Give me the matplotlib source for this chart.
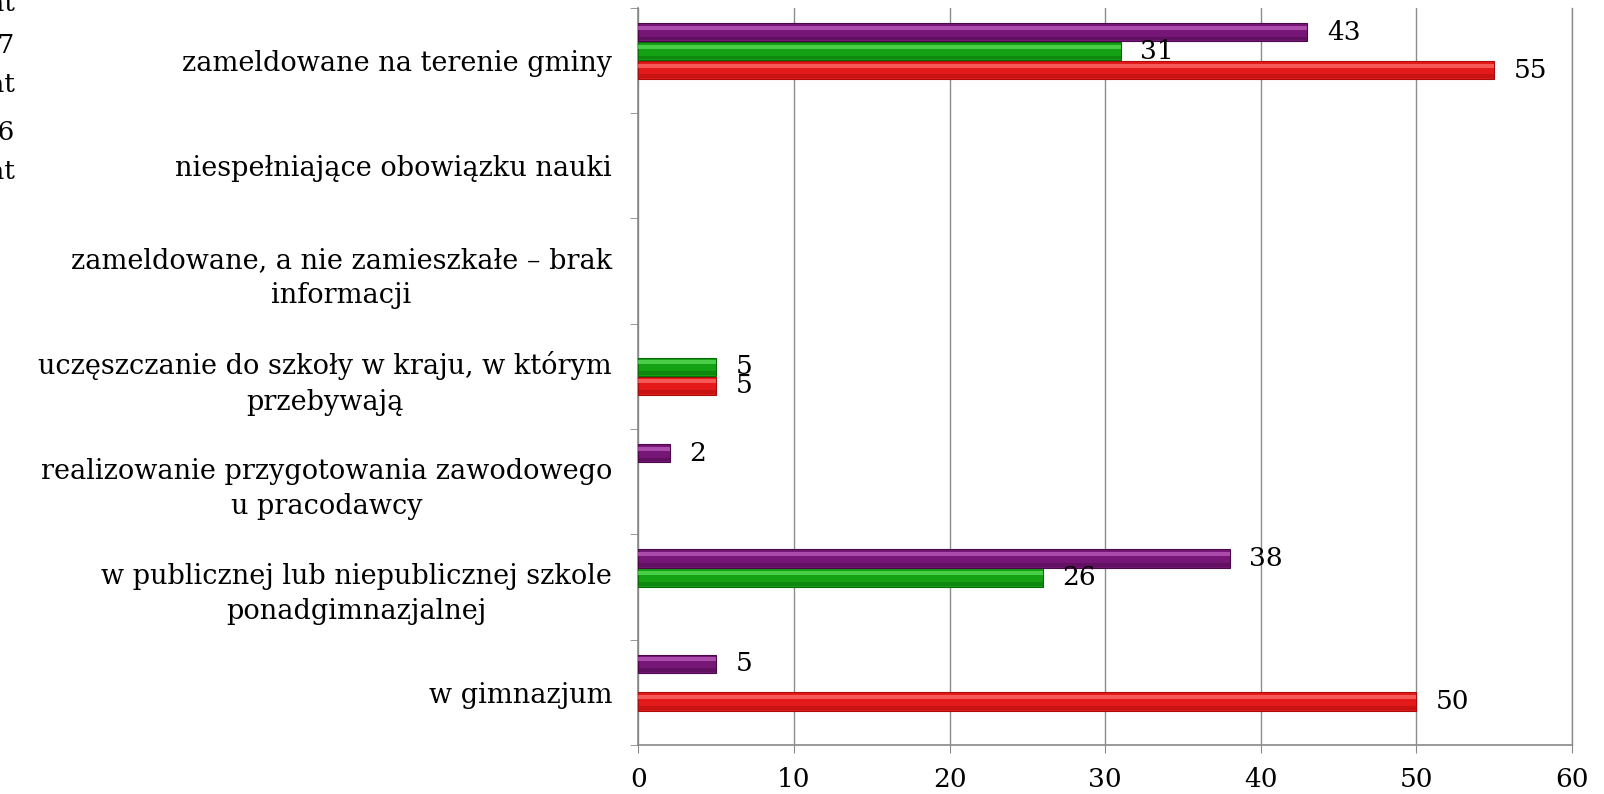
import numpy as np
import matplotlib
matplotlib.use('Agg')
import matplotlib.pyplot as plt

FIG_W, FIG_H, DPI = 16.04, 7.94, 100
FONT = 'DejaVu Serif'
plt.rcParams['font.family'] = FONT

categories = [
    'w gimnazjum',
    'w publicznej lub niepublicznej szkole\nponadgimnazjalnej',
    'realizowanie przygotowania zawodowego\nu pracodawcy',
    'uczęszczanie do szkoły w kraju, w którym\nprzebywają',
    'zameldowane, a nie zamieszkałe – brak\ninformacji',
    'niespełniające obowiązku nauki',
    'zameldowane na terenie gminy',
]
red_vals = [50, 0, 0, 5, 0, 0, 55]
green_vals = [0, 26, 0, 5, 0, 0, 31]
purple_vals = [5, 38, 2, 0, 0, 0, 43]
x_ticks = [0, 10, 20, 30, 40, 50, 60]
legend_texts = [
    'rok szkolny 2017/2018\n16-18 lat',
    'rok szkolny 2016/2017\n16-18 lat',
    'rok szkolny 2015/2016\n16-18 lat',
]

# values, offset, base, highlight, shadow
series = [
    (red_vals, -0.09, '#e41a1a', '#ff7272', '#a80c0c'),
    (green_vals, 0.09, '#14a214', '#62e262', '#0a6a0a'),
    (purple_vals, 0.27, '#761676', '#c462c4', '#4a0a4a'),
]
BAR_H = 0.175

fig = plt.figure(figsize=(FIG_W, FIG_H), dpi=DPI)
ax = fig.add_axes([0.398, 0.062, 0.582, 0.928])

y = np.arange(len(categories))
for vals, off, col, hi, dark in series:
    vals = np.array(vals, dtype=float)
    keep = vals > 0
    yy = y[keep] + off
    vv = vals[keep]
    bars = ax.barh(yy, vv, height=BAR_H, color=col, edgecolor=dark,
                   linewidth=0.8, zorder=3)
    # bevel: light strip on top, darker strip at the bottom
    ax.barh(yy + BAR_H * 0.24, vv, height=BAR_H * 0.22, color=hi,
            linewidth=0, alpha=0.7, zorder=4)
    ax.barh(yy - BAR_H * 0.34, vv, height=BAR_H * 0.2, color=dark,
            linewidth=0, alpha=0.45, zorder=4)
    ax.bar_label(bars, labels=[f'{int(v)}' for v in vv], padding=14,
                 fontsize=19, family=FONT, zorder=5)

ax.set_xlim(0, 60)
ax.set_ylim(-0.5, len(categories) - 0.5)
ax.set_xticks(x_ticks)
ax.set_xticklabels([str(t) for t in x_ticks], fontsize=19)
ax.set_yticks(y)
ax.set_yticklabels(categories, fontsize=19.5, multialignment='center',
                   linespacing=1.4)
ax.set_yticks(np.arange(len(categories) + 1) - 0.5, minor=True)
ax.tick_params(axis='y', which='major', length=0, pad=19)
ax.tick_params(axis='y', which='minor', length=6, color='#888888', direction='out')
ax.tick_params(axis='x', length=6, color='#888888', pad=10)

ax.grid(axis='x', color='#8c8c8c', linewidth=1, zorder=0)
ax.set_axisbelow(True)
ax.spines['top'].set_visible(False)
ax.spines['right'].set_color('#8c8c8c')
ax.spines['right'].set_linewidth(1)
for s in ['left', 'bottom']:
    ax.spines[s].set_color('#888888')
    ax.spines[s].set_linewidth(1.2)

# legend, clipped by the left edge of the figure
leg_y = [1.02, 0.918, 0.809]
for txt, ly in zip(legend_texts, leg_y):
    fig.text(0.009, ly, txt, ha='right', va='center', fontsize=19,
             multialignment='right', linespacing=1.7)

fig.savefig('out.png', dpi=DPI)
